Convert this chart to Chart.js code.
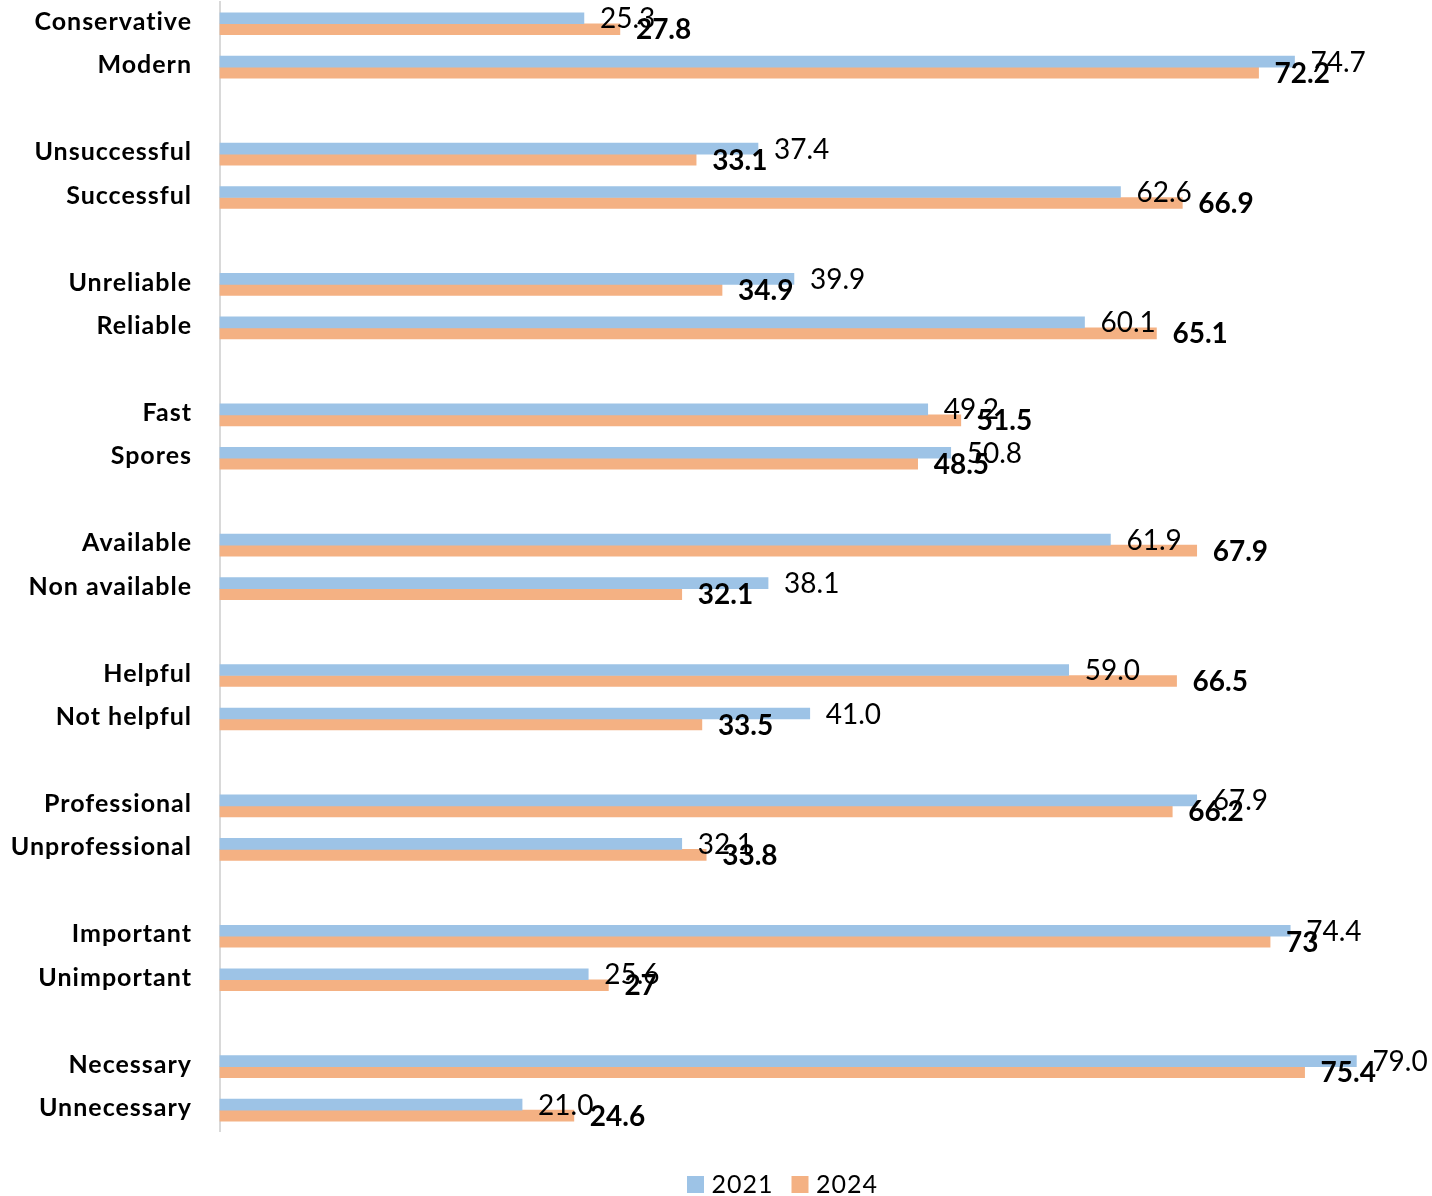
<!DOCTYPE html>
<html>
<head>
<meta charset="utf-8">
<script src="https://cdn.jsdelivr.net/npm/chart.js@4"></script>
<style>
  html, body { margin: 0; padding: 0; background: #fff; }
  #wrap { width: 1432px; height: 1196px; }
</style>
</head>
<body>
<div id="wrap"><canvas id="chart"></canvas></div>
<script>
// Categories (empty strings are the gaps between pairs)
const categories = [
    'Conservative', 'Modern', '',
    'Unsuccessful', 'Successful', '',
    'Unreliable', 'Reliable', '',
    'Fast', 'Spores', '',
    'Available', 'Non available', '',
    'Helpful', 'Not helpful', '',
    'Professional', 'Unprofessional', '',
    'Important', 'Unimportant', '',
    'Necessary', 'Unnecessary'
];

// 2021 values
const values2021 = [
    25.3, 74.7, null,
    37.4, 62.6, null,
    39.9, 60.1, null,
    49.2, 50.8, null,
    61.9, 38.1, null,
    59.0, 41.0, null,
    67.9, 32.1, null,
    74.4, 25.6, null,
    79.0, 21.0
];

// 2024 values
const values2024 = [
    27.8, 72.2, null,
    33.1, 66.9, null,
    34.9, 65.1, null,
    51.5, 48.5, null,
    67.9, 32.1, null,
    66.5, 33.5, null,
    66.2, 33.8, null,
    73, 27, null,
    75.4, 24.6
];

const FONT = 'Lato';

// Немного разрядки для подписей осей и легенды
const letterSpacing = {
    id: 'letterSpacing',
    beforeDraw(chart) { chart.ctx.letterSpacing = '1px'; },
    beforeDatasetsDraw(chart) { chart.ctx.letterSpacing = '0px'; },
    afterDraw(chart) { chart.ctx.letterSpacing = '0px'; }
};

// Подписи значений справа от столбцов
const valueLabels = {
    id: 'valueLabels',
    afterDatasetsDraw(chart) {
        const ctx = chart.ctx;
        ctx.save();
        ctx.letterSpacing = '0px';
        ctx.textBaseline = 'middle';
        ctx.textAlign = 'left';
        ctx.fillStyle = '#000';
        chart.data.datasets.forEach((ds, di) => {
            const meta = chart.getDatasetMeta(di);
            ctx.font = (di === 1 ? 'bold ' : '') + '28px ' + FONT;
            meta.data.forEach((bar, i) => {
                const v = ds.data[i];
                if (v === null) return;
                const text = di === 0 ? v.toFixed(1) : String(v);
                ctx.fillText(text, bar.x + 16, bar.y + 1);
            });
        });
        ctx.restore();
    }
};

new Chart(document.getElementById('chart'), {
    type: 'bar',
    data: {
        labels: categories,
        datasets: [
            {
                label: '2021',
                data: values2021,
                backgroundColor: '#9DC3E6',
                barThickness: 11,
                clip: false
            },
            {
                label: '2024',
                data: values2024,
                backgroundColor: '#F4B183',
                barThickness: 11,
                clip: false
            }
        ]
    },
    options: {
        indexAxis: 'y',
        responsive: true,
        maintainAspectRatio: false,
        animation: false,
        layout: { padding: { top: 2, right: 90, bottom: -11, left: 0 } },
        plugins: {
            legend: {
                position: 'bottom',
                fullSize: false,
                title: {
                    display: true,
                    text: ' ',
                    font: { size: 1 },
                    padding: { top: 16, bottom: 0 }
                },
                labels: {
                    usePointStyle: true,
                    pointStyle: 'rect',
                    boxWidth: 7,
                    boxHeight: 17,
                    padding: 23,
                    color: '#000',
                    font: { family: FONT, size: 25 }
                }
            },
            tooltip: { enabled: false }
        },
        scales: {
            x: {
                display: false,
                min: 0,
                max: 78
            },
            y: {
                grid: { display: false, drawTicks: false },
                border: { display: true, color: '#d9d9d9', width: 2 },
                ticks: {
                    padding: 28,
                    labelOffset: -2,
                    color: '#000',
                    font: { family: FONT, size: 25, weight: 'bold' }
                },
                afterFit: s => {
                    s.width = 220;
                    s.paddingTop = 0;
                    s.paddingBottom = 0;
                }
            }
        }
    },
    plugins: [letterSpacing, valueLabels]
});
</script>
</body>
</html>
